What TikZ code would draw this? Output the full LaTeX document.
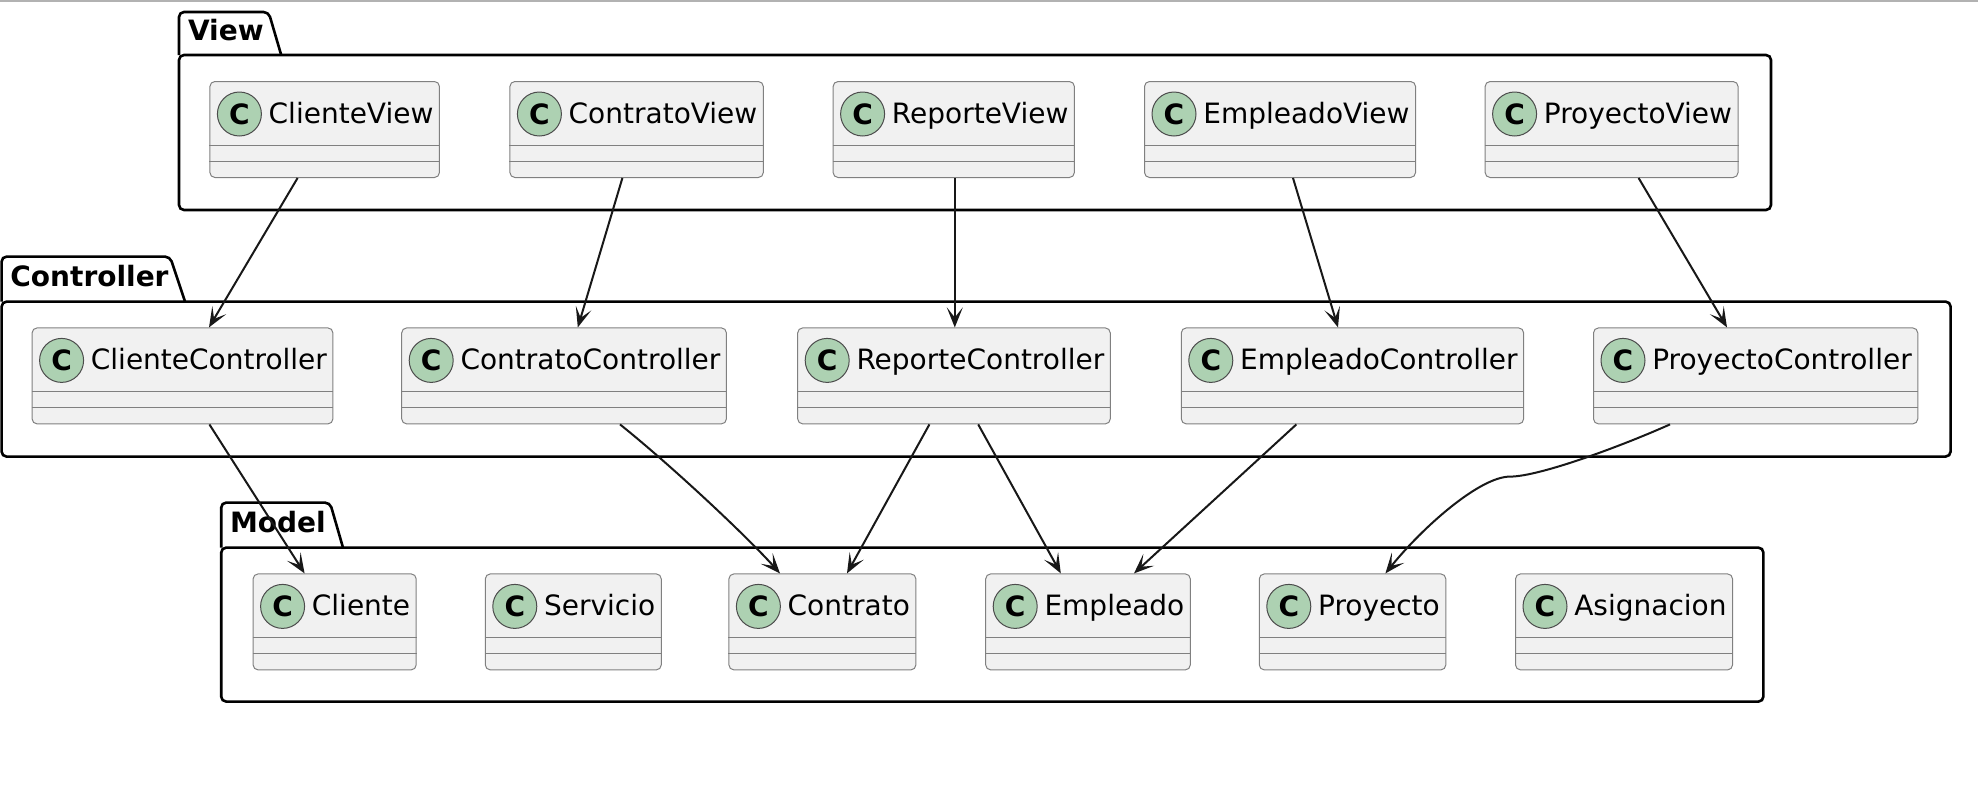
\documentclass[tikz,border=0pt]{standalone}
\usepackage{fontspec}
\setmainfont{DejaVu Sans}
\usepackage{xcolor}
\usepackage{tikz}
\usetikzlibrary{arrows.meta}
\definecolor{clsfill}{HTML}{F1F1F1}
\definecolor{clsline}{HTML}{181818}
\definecolor{spotfill}{HTML}{ADD1B2}
\tikzset{
  cls/.style={draw=black!50, fill=clsfill, line width=0.5pt, rounded corners=2.5pt,
    anchor=north west, inner xsep=3pt, inner ysep=0pt, text height=21pt, text depth=27pt,
    font=\fontsize{14}{16}\selectfont, execute at begin node={\hspace*{26.4pt}}},
  sepline/.style={draw=black!50, line width=0.5pt},
  spot/.style={circle, draw=black!70, fill=spotfill, line width=0.5pt, minimum size=22pt,
    inner sep=0pt, font=\fontsize{14}{16}\selectfont\bfseries},
  pkg/.style={draw=black, line width=1.3pt, rounded corners=2.5pt},
  pkgname/.style={anchor=base west, inner sep=0pt, font=\fontsize{14}{16}\selectfont\bfseries},
  dep/.style={draw=clsline, line width=1pt, -{Stealth[length=10pt,width=8pt,inset=5pt]}},
}

\begin{document}
\begin{tikzpicture}[x=1pt, y=-1pt]
        \useasboundingbox (0,0) rectangle (989,399);
        \draw[black!30, line width=1pt] (0,0.5) -- (989,0.5);
        % packages
        \draw[pkg] (89.5,27.5) -- (89.5,6) -- (134.3,6) -- (140.6,27.5);
        \draw[pkg] (89.5,27.5) rectangle (885.5,105);
        \node[pkgname] (view) at (93.8,20.3) {View};
        \draw[pkg] (0.8,150.8) -- (0.8,128.3) -- (85,128.3) -- (92.5,150.8);
        \draw[pkg] (0.8,150.8) rectangle (975.3,228.3);
        \node[pkgname] (controller) at (5,143) {Controller};
        \draw[pkg] (110.6,273.8) -- (110.6,251.3) -- (165,251.3) -- (171.5,273.8);
        \draw[pkg] (110.6,273.8) rectangle (881.7,350.8);
        \node[pkgname] (model) at (114.8,266) {Model};
        % view classes
        \node[cls] (cv) at (104.7,40.5) {ClienteView};
        \node[cls] (tv) at (254.7,40.5) {ContratoView};
        \node[cls] (rv) at (416.3,40.5) {ReporteView};
        \node[cls] (ev) at (572.0,40.5) {EmpleadoView};
        \node[cls] (pv) at (742.3,40.5) {ProyectoView};
        % controller classes
        \node[cls] (cc) at (15.8,163.7) {ClienteController};
        \node[cls] (tc) at (200.6,163.7) {ContratoController};
        \node[cls] (rc) at (398.6,163.7) {ReporteController};
        \node[cls] (ec) at (590.4,163.7) {EmpleadoController};
        \node[cls] (pc) at (796.5,163.7) {ProyectoController};
        % model classes
        \node[cls] (cl) at (126.3,286.7) {Cliente};
        \node[cls] (se) at (242.4,286.7) {Servicio};
        \node[cls] (co) at (364.2,286.7) {Contrato};
        \node[cls] (em) at (492.6,286.7) {Empleado};
        \node[cls] (pr) at (629.4,286.7) {Proyecto};
        \node[cls] (as) at (757.5,286.7) {Asignacion};
        \foreach \n in {cv,tv,rv,ev,pv,cc,tc,rc,ec,pc,cl,se,co,em,pr,as} {
            \draw[sepline] ([yshift=-32pt]\n.north west) -- ([yshift=-32pt]\n.north east);
            \draw[sepline] ([yshift=-40pt]\n.north west) -- ([yshift=-40pt]\n.north east);
            \node[spot] (\n-c) at ([xshift=15pt,yshift=-16.5pt]\n.north west) {C};
        }
        % dependencies
        \draw[dep] ([xshift=44.1]cv.south west) -- ([xshift=88.7]cc.north west);
        \draw[dep] ([xshift=56.5]tv.south west) -- ([xshift=88.3]tc.north west);
        \draw[dep] ([xshift=61.1]rv.south west) -- ([xshift=78.8]rc.north west);
        \draw[dep] ([xshift=74.5]ev.south west) -- ([xshift=78.6]ec.north west);
        \draw[dep] ([xshift=77]pv.south west) -- ([xshift=67]pc.north west);
        \draw[dep] ([xshift=88.9]cc.south west) -- ([xshift=26]cl.north west);
        \draw[dep] ([xshift=109.4]tc.south west) .. controls +(25,20) and +(-17,-19) .. ([xshift=25.8]co.north west);
        \draw[dep] ([xshift=66.1]rc.south west) -- ([xshift=59.3]co.north west);
        \draw[dep] ([xshift=90.5]rc.south west) -- ([xshift=37.8]em.north west);
        \draw[dep] ([xshift=57.8]ec.south west) -- ([xshift=74.4]em.north west);
        \coordinate (bend) at (755,238.3);
        \draw[dep] ([xshift=38.5]pc.south west) .. controls +(-23,10.3) and +(15,0) .. (bend)
            .. controls +(-15,0) and +(18.9,-23.4) .. ([xshift=63.3]pr.north west);
    \end{tikzpicture}
\end{document}
